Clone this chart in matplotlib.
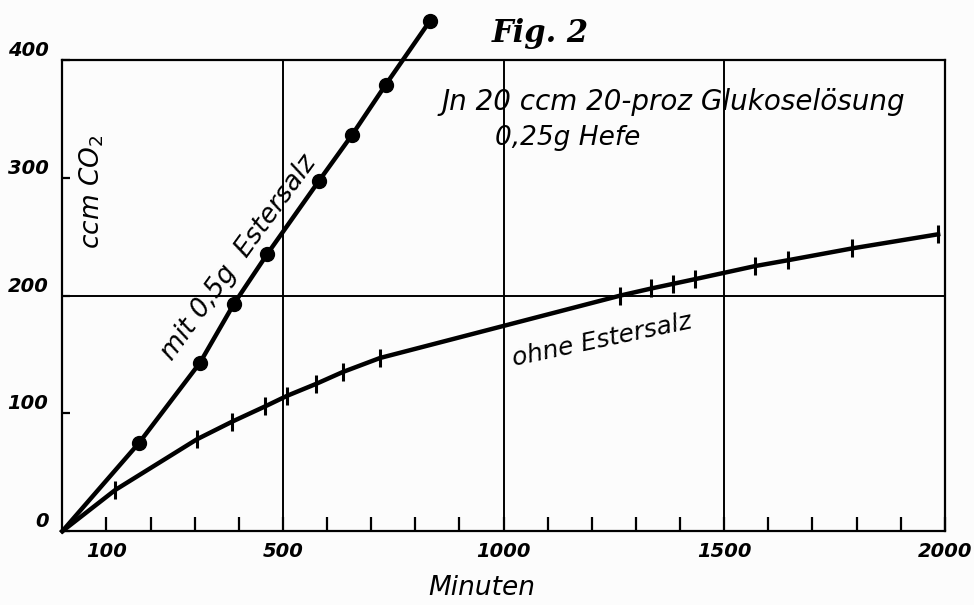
import matplotlib.pyplot as plt

# mit 0,5g Estersalz (filled circles)
mit_min = [0, 174, 312, 389, 464, 581, 656, 733, 833]
mit_co2 = [0, 75, 143, 193, 235, 297, 336, 379, 433]

# ohne Estersalz (tick marks)
ohne_min = [0, 120, 305, 385, 460, 510, 575, 635, 720, 1265, 1335, 1385, 1435, 1570, 1645, 1790, 1985]
ohne_co2 = [0, 35, 78, 93, 106, 115, 125, 135, 147, 200, 206, 210, 214, 225, 230, 240, 252]

x_ticks = [100, 500, 1000, 1500, 2000]
y_ticks = [0, 100, 200, 300, 400]

fig = plt.figure(figsize=(9.74, 6.05), dpi=100)
fig.patch.set_facecolor('#fcfcfc')
ax = fig.add_axes([0.064, 0.122, 0.906, 0.779])
ax.set_facecolor('#fcfcfc')
ax.set_xlim(0, 2000)
ax.set_ylim(0, 400)

for s in ax.spines.values():
    s.set_linewidth(1.6)
    s.set_color('black')

# grid lines drawn like the original
for gx in [500, 1000, 1500]:
    ax.axvline(gx, color='black', lw=1.4, zorder=1)
ax.axhline(200, color='black', lw=1.4, zorder=1)

ax.plot(mit_min, mit_co2, color='black', lw=3.2, marker='o', markersize=10,
        markevery=list(range(1, len(mit_min))), clip_on=False, zorder=3)
ax.plot(ohne_min, ohne_co2, color='black', lw=3.2, marker='|', markersize=13,
        markeredgewidth=2.2, markevery=list(range(1, len(ohne_min))), clip_on=False, zorder=3)

tfont = dict(fontsize=14, fontweight='bold', fontstyle='italic')
ax.set_xticks(range(100, 2000, 100), minor=True)
ax.set_xticks(x_ticks)
ax.set_xticklabels([str(v) for v in x_ticks], **tfont)
ax.set_yticks(y_ticks)
ax.set_yticklabels([str(v) for v in y_ticks], **tfont)
ax.tick_params(axis='x', which='both', direction='in', length=10, width=1.6, pad=8)
ax.tick_params(axis='y', direction='in', length=6, width=1.6, pad=10)
for lab in ax.get_yticklabels():
    lab.set_verticalalignment('bottom')

fig.text(482 / 974, 1 - 588 / 605, 'Minuten', fontsize=19, fontstyle='italic',
         ha='center', va='center')

ax.text(0.033, 0.72, 'ccm CO$_2$', transform=ax.transAxes, rotation=90,
        fontsize=19, fontstyle='italic', ha='center', va='center')
fig.text(0.555, 0.945, 'Fig. 2', fontsize=22, fontweight='bold', fontstyle='italic',
         family='DejaVu Serif', ha='center', va='center')
ax.text(0.43, 0.91, 'Jn 20 ccm 20-proz Glukoselösung', transform=ax.transAxes,
        fontsize=20, fontstyle='italic', ha='left', va='center')
ax.text(0.49, 0.835, '0,25g Hefe', transform=ax.transAxes,
        fontsize=19, fontstyle='italic', ha='left', va='center')
ax.text(400, 232, 'mit 0,5g  Estersalz', rotation=54, fontsize=19, fontstyle='italic',
        ha='center', va='center', rotation_mode='anchor')
ax.text(1224, 162, 'ohne Estersalz', rotation=12, fontsize=18, fontstyle='italic',
        ha='center', va='center', rotation_mode='anchor')

fig.savefig('out.png', dpi=100, facecolor=fig.get_facecolor())
